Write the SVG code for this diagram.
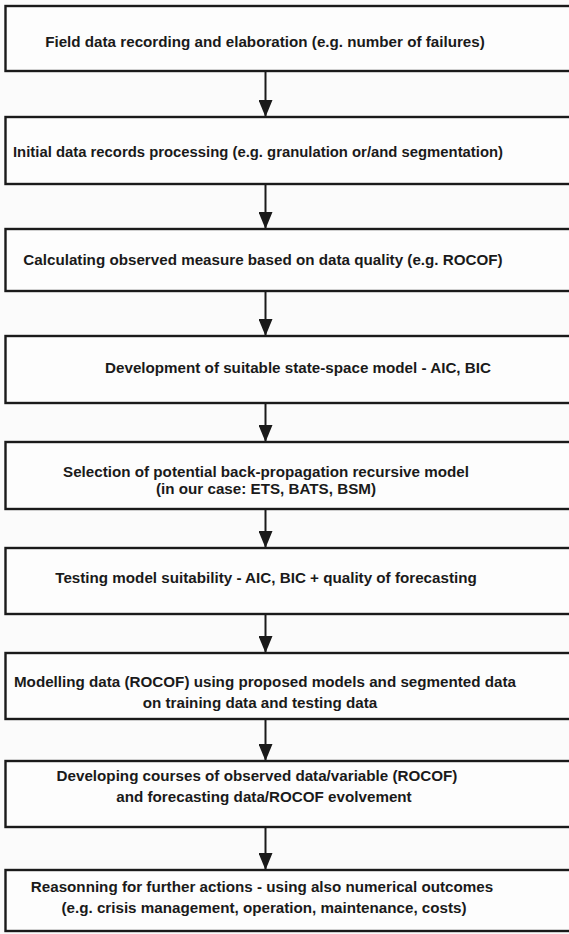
<svg xmlns="http://www.w3.org/2000/svg" width="569" height="934" viewBox="0 0 569 934">
<defs>
<style>
.box{fill:#fdfdfd;stroke:#1a1a1a;stroke-width:2.4}
.t{font-family:"Liberation Sans",Arial,sans-serif;font-weight:bold;font-size:15.2px;fill:#1a1a1a;text-anchor:middle}
.c{stroke:#1a1a1a;stroke-width:2;fill:none}
</style>
<marker id="ah" viewBox="0 0 17 14" refX="17" refY="7" markerWidth="17" markerHeight="14" markerUnits="userSpaceOnUse" orient="auto">
<path d="M0,0 L17,7 L0,14 z" fill="#1a1a1a"/>
</marker>
</defs>
<rect x="0" y="0" width="569" height="934" fill="#fbfbfb"/>
<g id="connectors">
<path class="c" d="M265.5,71 V117" marker-end="url(#ah)"/>
<path class="c" d="M265.5,184 V229" marker-end="url(#ah)"/>
<path class="c" d="M265.5,291 V336" marker-end="url(#ah)"/>
<path class="c" d="M265.5,403 V442" marker-end="url(#ah)"/>
<path class="c" d="M265.5,509 V548" marker-end="url(#ah)"/>
<path class="c" d="M265.5,614 V653" marker-end="url(#ah)"/>
<path class="c" d="M265.5,719 V761" marker-end="url(#ah)"/>
<path class="c" d="M265.5,827 V870" marker-end="url(#ah)"/>
</g>
<g id="n1"><rect class="box" x="5.5" y="6" width="580" height="65"/><text class="t" x="265" y="47">Field data recording and elaboration (e.g. number of failures)</text></g>
<g id="n2"><rect class="box" x="5.5" y="117" width="580" height="67"/><text class="t" x="258" y="157" textLength="490" lengthAdjust="spacingAndGlyphs">Initial data records processing (e.g. granulation or/and segmentation)</text></g>
<g id="n3"><rect class="box" x="5.5" y="229" width="580" height="62"/><text class="t" x="263" y="265">Calculating observed measure based on data quality (e.g. ROCOF)</text></g>
<g id="n4"><rect class="box" x="5.5" y="336" width="580" height="67"/><text class="t" x="298" y="373">Development of suitable state-space model - AIC, BIC</text></g>
<g id="n5"><rect class="box" x="5.5" y="442" width="580" height="67"/><text class="t" x="266" y="477">Selection of potential back-propagation recursive model</text><text class="t" x="266" y="494">(in our case: ETS, BATS, BSM)</text></g>
<g id="n6"><rect class="box" x="5.5" y="548" width="580" height="66"/><text class="t" x="266" y="583">Testing model suitability - AIC, BIC + quality of forecasting</text></g>
<g id="n7"><rect class="box" x="5.5" y="653" width="580" height="66"/><text class="t" x="265" y="687">Modelling data (ROCOF) using proposed models and segmented data</text><text class="t" x="260" y="708">on training data and testing data</text></g>
<g id="n8"><rect class="box" x="5.5" y="761" width="580" height="66"/><text class="t" x="257" y="781">Developing courses of observed data/variable (ROCOF)</text><text class="t" x="264" y="802">and forecasting data/ROCOF evolvement</text></g>
<g id="n9"><rect class="box" x="5.5" y="870" width="580" height="61"/><text class="t" x="262" y="892">Reasonning for further actions - using also numerical outcomes</text><text class="t" x="264" y="913">(e.g. crisis management, operation, maintenance, costs)</text></g>
</svg>
